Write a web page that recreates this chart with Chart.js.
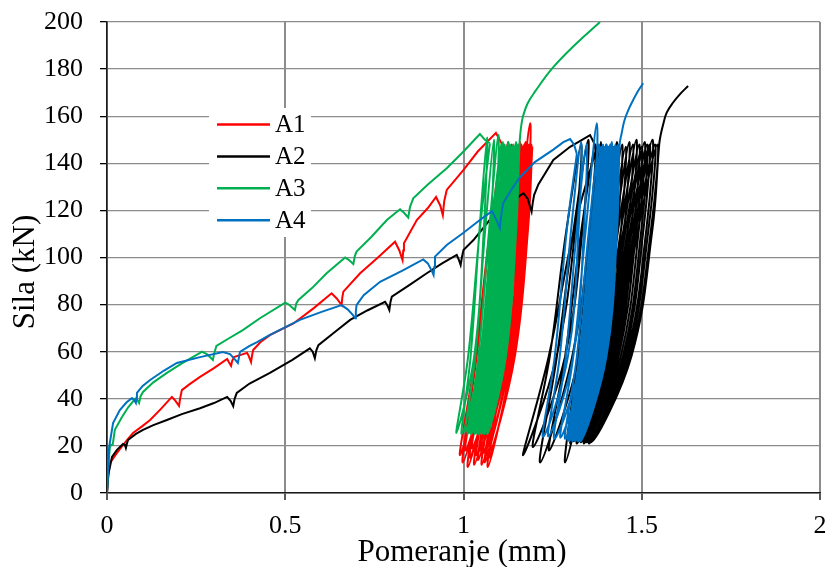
<!DOCTYPE html>
<html>
<head>
<meta charset="utf-8">
<title>Sila - Pomeranje</title>
<script src="https://cdn.jsdelivr.net/npm/chart.js@4.4.1/dist/chart.umd.min.js"></script>
<style>
  html, body { margin: 0; padding: 0; background: #fff; }
  #wrap { width: 830px; height: 567px; }
</style>
</head>
<body>
<div id="wrap"><canvas id="chart" width="830" height="567"></canvas></div>
<script>
// ── Data (Pomeranje mm / Sila kN) ──
const seriesNames = ['A1', 'A2', 'A3', 'A4'];

// monotonic loading branch: [x, y]
const a1Start = [[0,0],[0.003,7],[0.008,12.7],[0.028,17],[0.056,22.5],[0.073,25.5],[0.1,28.5],[0.121,31],[0.15,35.5],[0.182,40.8],[0.19,39.5],[0.202,37],[0.205,40],[0.21,43.7],[0.23,46],[0.261,49.3],[0.3,53],[0.337,56.9],[0.342,55.5],[0.348,54],[0.351,56],[0.356,57.7],[0.393,59.5],[0.398,58],[0.404,55.6],[0.407,58.5],[0.41,60.7],[0.43,64],[0.457,67],[0.523,72],[0.58,78.5],[0.63,84.8],[0.645,82.5],[0.658,79.8],[0.66,83],[0.663,85.5],[0.71,93.3],[0.76,100],[0.808,106.7],[0.82,103],[0.829,98.9],[0.831,103],[0.833,106],[0.869,115.9],[0.9,121],[0.923,125.7],[0.935,122],[0.942,118],[0.946,124],[0.953,128.7],[0.999,137],[1.04,145],[1.091,152.9],[1.105,149],[1.112,147]];
const a2Start = [[0,0],[0.004,8],[0.014,15.3],[0.028,18.3],[0.045,20.8],[0.05,20.5],[0.053,19.1],[0.056,21],[0.059,22.5],[0.08,25],[0.101,26.8],[0.13,28.8],[0.168,31],[0.21,33.5],[0.261,36],[0.3,38.2],[0.337,40.8],[0.347,39],[0.354,36.9],[0.358,40],[0.364,42.5],[0.4,46.5],[0.457,51],[0.52,56.5],[0.569,61.4],[0.577,60],[0.583,57.2],[0.587,60.5],[0.593,62.8],[0.64,68.5],[0.682,73.5],[0.73,77.5],[0.78,81.2],[0.787,79.5],[0.792,77.7],[0.795,81],[0.799,83.4],[0.85,88.5],[0.897,93.3],[0.94,97.5],[0.981,101.1],[0.987,99],[0.992,96.8],[0.996,100.5],[1.0,103.2],[1.028,107.4],[1.074,116],[1.12,122],[1.168,127.3],[1.18,125],[1.191,119.5],[1.194,123],[1.198,126.5],[1.21,131],[1.252,141.4],[1.299,147],[1.355,152],[1.365,149],[1.372,146]];
const a3Start = [[0,0],[0.003,10],[0.008,19.5],[0.012,20.5],[0.016,20.5],[0.022,26.8],[0.042,32.3],[0.06,36.5],[0.079,40],[0.085,39.5],[0.09,38.2],[0.094,41],[0.101,42.9],[0.13,47],[0.168,51],[0.21,55],[0.261,59.5],[0.266,60],[0.28,59],[0.297,56.5],[0.301,59.5],[0.307,62.5],[0.34,65.5],[0.381,69.2],[0.429,74.2],[0.5,80.8],[0.51,80],[0.527,77.7],[0.531,80.5],[0.537,82],[0.575,87],[0.616,93.3],[0.668,100],[0.678,99],[0.691,97.2],[0.695,100.5],[0.7,102.5],[0.74,108.5],[0.785,115.9],[0.822,120.5],[0.833,119],[0.845,117],[0.85,121.5],[0.859,125.1],[0.9,131],[0.953,137.9],[1.0,145],[1.046,152.4],[1.06,150],[1.074,148.5]];
const a4Start = [[0,0],[0.003,10],[0.006,19.5],[0.017,29.7],[0.036,35.2],[0.055,38.5],[0.07,40.3],[0.076,39.5],[0.081,38.2],[0.083,40.5],[0.084,42.5],[0.1,45.5],[0.121,48],[0.16,52],[0.196,55.2],[0.261,57.7],[0.325,59.9],[0.345,59],[0.36,56.5],[0.367,55.2],[0.37,57.5],[0.373,59.9],[0.4,62.5],[0.421,64.1],[0.457,67.1],[0.541,73.5],[0.6,76.8],[0.658,79.8],[0.675,78],[0.69,75.5],[0.696,74.2],[0.698,77],[0.7,79.8],[0.72,84],[0.766,89.7],[0.83,94.5],[0.887,99.2],[0.9,97.5],[0.912,94],[0.916,92.6],[0.918,96],[0.92,100.4],[0.953,105.3],[1.0,110.5],[1.046,115.9],[1.08,119.7],[1.095,115],[1.102,112.5],[1.105,117],[1.111,123],[1.135,129],[1.158,134],[1.2,140.5],[1.252,145.8],[1.28,149],[1.299,150.3],[1.31,148],[1.318,144]];

// load cycles, one row per cycle:
// [unload x @ loopHighY, unload x @ loopLowY, valley x, valley y, reload x @ loopLowY, reload x @ loopHighY, peak x, peak y]
const loopLowY = 58;
const loopHighY = 112;
const a1Cycles = [
  [1.075,1.033,0.990,16,1.060,1.098,1.110,148],[1.076,1.037,0.998,13,1.072,1.112,1.125,149],
  [1.089,1.047,1.005,18,1.080,1.122,1.135,148],[1.098,1.055,1.012,11,1.087,1.129,1.142,147],
  [1.105,1.061,1.018,15,1.093,1.135,1.148,148],[1.111,1.067,1.024,19,1.099,1.141,1.154,147],
  [1.117,1.073,1.030,12,1.104,1.145,1.158,149],[1.121,1.079,1.036,16,1.109,1.149,1.162,148],
  [1.126,1.083,1.041,14,1.113,1.153,1.166,147],[1.130,1.088,1.046,18,1.118,1.158,1.170,148],
  [1.134,1.093,1.051,12,1.122,1.162,1.174,149],[1.139,1.097,1.056,17,1.126,1.165,1.177,147],
  [1.142,1.101,1.060,13,1.130,1.168,1.180,148],[1.145,1.105,1.064,16,1.133,1.171,1.183,148],
  [1.149,1.108,1.068,11,1.137,1.175,1.187,157],[1.153,1.112,1.072,15,1.140,1.178,1.190,148],
  [1.156,1.116,1.076,18,1.144,1.181,1.193,147]
];
const a2Cycles = [
  [1.310,1.239,1.167,16,1.261,1.314,1.330,148],[1.289,1.242,1.195,19.5,1.285,1.334,1.350,150],
  [1.309,1.262,1.215,13,1.305,1.354,1.370,148],[1.331,1.285,1.240,18,1.324,1.370,1.385,149],
  [1.355,1.320,1.285,13,1.352,1.388,1.400,148],[1.370,1.335,1.300,21,1.367,1.403,1.415,147],
  [1.383,1.347,1.310,22,1.380,1.418,1.430,149],[1.396,1.357,1.318,21,1.392,1.432,1.445,148],
  [1.409,1.366,1.324,22,1.400,1.442,1.455,147],[1.417,1.373,1.329,21.5,1.408,1.451,1.465,149],
  [1.426,1.380,1.334,22,1.416,1.461,1.475,148],[1.434,1.386,1.338,21,1.423,1.470,1.485,150],
  [1.442,1.392,1.342,22,1.430,1.478,1.493,148],[1.449,1.397,1.346,21.5,1.435,1.485,1.500,147],
  [1.455,1.402,1.349,22,1.441,1.492,1.508,149],[1.461,1.407,1.352,21,1.447,1.499,1.515,148],
  [1.467,1.411,1.355,22,1.452,1.505,1.522,148],[1.473,1.415,1.357,21.5,1.457,1.513,1.530,150],
  [1.479,1.419,1.359,22,1.462,1.519,1.537,148],[1.484,1.423,1.361,22,1.467,1.526,1.544,148],
  [1.490,1.426,1.363,22.5,1.471,1.530,1.549,148]
];
const a3Cycles = [
  [1.046,1.013,0.980,25.5,1.030,1.057,1.066,151],[1.045,1.020,0.995,25,1.047,1.076,1.085,150],
  [1.061,1.033,1.005,26,1.059,1.089,1.098,152],[1.072,1.042,1.012,25,1.066,1.096,1.105,148],
  [1.079,1.048,1.017,25.5,1.071,1.101,1.110,149],[1.084,1.053,1.022,25,1.076,1.106,1.115,148],
  [1.089,1.058,1.027,26,1.081,1.111,1.120,147],[1.094,1.063,1.032,25,1.086,1.116,1.125,149],
  [1.099,1.068,1.037,25.5,1.091,1.121,1.130,148],[1.104,1.073,1.042,25,1.096,1.126,1.135,147],
  [1.109,1.078,1.047,26,1.100,1.130,1.139,148],[1.113,1.082,1.051,25,1.104,1.134,1.143,147],
  [1.117,1.086,1.055,25.5,1.108,1.138,1.147,149],[1.121,1.090,1.059,25,1.112,1.142,1.151,148],
  [1.125,1.094,1.063,26,1.116,1.145,1.154,147],[1.128,1.097,1.067,25,1.119,1.148,1.157,148]
];
const a4Cycles = [
  [1.290,1.256,1.223,23.8,1.293,1.323,1.330,149],[1.302,1.270,1.238,24,1.308,1.338,1.345,148],
  [1.318,1.287,1.255,23,1.332,1.366,1.374,157],[1.343,1.308,1.272,23.5,1.342,1.372,1.380,148],
  [1.352,1.318,1.285,23,1.351,1.379,1.386,147],[1.358,1.325,1.292,22.5,1.356,1.384,1.391,148],
  [1.363,1.330,1.297,22,1.361,1.389,1.396,147],[1.368,1.335,1.302,23,1.366,1.394,1.401,148],
  [1.373,1.339,1.306,22,1.371,1.399,1.406,147],[1.377,1.344,1.310,23,1.376,1.404,1.411,148],
  [1.382,1.348,1.314,22,1.380,1.409,1.416,149],[1.387,1.352,1.318,23,1.385,1.414,1.421,147],
  [1.391,1.357,1.322,22,1.390,1.419,1.426,148],[1.396,1.361,1.326,23,1.394,1.423,1.430,147],
  [1.400,1.364,1.329,22,1.397,1.427,1.434,148],[1.403,1.368,1.332,23,1.401,1.431,1.438,148]
];

// final loading branch after the cycles
const a1End = [];
const a2End = [[1.553,152],[1.56,156.5],[1.57,161.5],[1.588,165.8],[1.608,169.5],[1.63,172.8]];
const a3End = [[1.159,152],[1.162,156],[1.167,160],[1.18,165.5],[1.2,170.3],[1.25,180.5],[1.318,191.1],[1.383,200]];
const a4End = [[1.444,153],[1.451,158],[1.462,162.5],[1.476,166.9],[1.49,170.8],[1.504,174]];

// ── Styles ──
const seriesColors = ['#ff0000', '#000000', '#00b050', '#0070c0'];
const serif = "'Liberation Serif', 'Times New Roman', serif";
const gridColor = '#8c8c8c';

const toPoints = pairs => pairs.map(([x, y]) => ({ x, y }));

function cyclePoints(start, cycles, end) {
  const pts = [start[start.length - 1]];
  cycles.forEach(([dh, dl, b, v, ul, uh, t, p]) => {
    pts.push([dh, loopHighY], [dl, loopLowY], [b, v], [ul, loopLowY], [uh, loopHighY], [t, p]);
  });
  return toPoints(pts.concat(end));
}

const parts = [
  [a1Start, a1Cycles, a1End],
  [a2Start, a2Cycles, a2End],
  [a3Start, a3Cycles, a3End],
  [a4Start, a4Cycles, a4End]
];

const datasets = [];
parts.forEach(([start, cycles, end], i) => {
  // later series on top (lower order draws last)
  const order = (parts.length - i) * 2;
  datasets.push({
    label: seriesNames[i],
    data: toPoints(start),
    borderColor: seriesColors[i],
    borderWidth: 2,
    pointRadius: 0,
    showLine: true,
    tension: 0,
    order
  });
  datasets.push({
    label: seriesNames[i] + ' cycles',
    data: cyclePoints(start, cycles, end),
    borderColor: seriesColors[i],
    borderWidth: 2,
    pointRadius: 0,
    showLine: true,
    tension: 0.4,
    order
  });
});

// ── Legend box + axis titles ──
const decor = {
  id: 'decor',
  afterDatasetsDraw(chart) {
    const ctx = chart.ctx;
    ctx.save();
    ctx.fillStyle = '#fff';
    ctx.fillRect(209, 108, 102, 129);
    ctx.font = '25px ' + serif;
    ctx.textBaseline = 'middle';
    ctx.textAlign = 'left';
    seriesNames.forEach((name, i) => {
      const y = 124.5 + i * 31.9;
      ctx.strokeStyle = seriesColors[i];
      ctx.lineWidth = 2.5;
      ctx.beginPath();
      ctx.moveTo(217, y);
      ctx.lineTo(270, y);
      ctx.stroke();
      ctx.fillStyle = '#000';
      ctx.fillText(name, 275, y + 1);
    });

    ctx.font = '31px ' + serif;
    ctx.fillStyle = '#000';
    ctx.textAlign = 'center';
    ctx.textBaseline = 'alphabetic';
    ctx.fillText('Pomeranje (mm)', 462, 561);

    ctx.translate(34, 272);
    ctx.rotate(-Math.PI / 2);
    ctx.fillText('Sila (kN)', 0, 0);
    ctx.restore();
  }
};

new Chart(document.getElementById('chart'), {
  type: 'scatter',
  data: { datasets },
  plugins: [decor],
  options: {
    responsive: false,
    animation: false,
    events: [],
    layout: { padding: { top: 22, right: 10, bottom: 0, left: 0 } },
    plugins: { legend: { display: false }, tooltip: { enabled: false } },
    scales: {
      x: {
        type: 'linear',
        min: 0,
        max: 2,
        afterFit: s => {
          s.height = 74;
          s.paddingLeft = 0;
          s.paddingRight = 0;
        },
        ticks: {
          stepSize: 0.5,
          padding: 11,
          color: '#000',
          font: { family: serif, size: 26 },
          callback: v => String(v)
        },
        grid: { color: gridColor, lineWidth: 2, tickLength: 7, tickColor: '#000', tickWidth: 1.3 },
        border: { color: '#1a1a1a', width: 1.5 }
      },
      y: {
        min: 0,
        max: 200,
        afterFit: s => {
          s.width = 107;
          s.paddingTop = 0;
          s.paddingBottom = 0;
        },
        ticks: { stepSize: 20, padding: 17, color: '#000', font: { family: serif, size: 26 } },
        grid: { color: gridColor, lineWidth: 1.3, tickLength: 7, tickColor: '#000', tickWidth: 1.3 },
        border: { color: '#1a1a1a', width: 1.5 }
      }
    }
  }
});
</script>
</body>
</html>
